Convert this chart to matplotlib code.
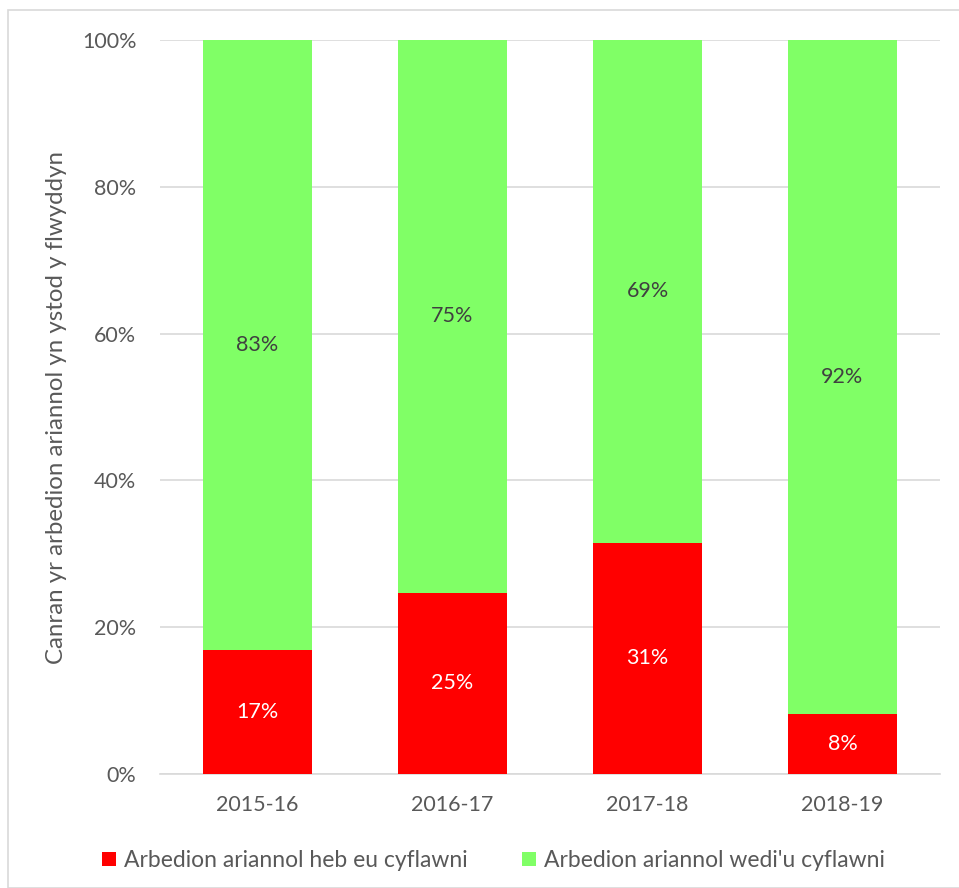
import matplotlib
matplotlib.use("Agg")
import matplotlib.pyplot as plt
from matplotlib.patches import Rectangle

years = ["2015-16", "2016-17", "2017-18", "2018-19"]
not_achieved = [16.9, 24.7, 31.5, 8.2]
achieved = [83.1, 75.3, 68.5, 91.8]
not_achieved_labels = ["17%", "25%", "31%", "8%"]
achieved_labels = ["83%", "75%", "69%", "92%"]
series_names = ["Arbedion ariannol heb eu cyflawni", "Arbedion ariannol wedi'u cyflawni"]
y_ticks = [0, 20, 40, 60, 80, 100]

RED = "#FF0000"
GREEN = "#80FF66"
GREY = "#595959"

plt.rcParams['font.family'] = ['Lato', 'DejaVu Sans']

fig = plt.figure(figsize=(9.59, 8.88), dpi=100)
fig.patches.append(Rectangle((8 / 959, 0.0), 1.0, 1 - 10 / 888, transform=fig.transFigure,
                             fill=False, edgecolor="#D9D9D9", linewidth=1.2))
ax = fig.add_axes([160 / 959, 114 / 888, 780 / 959, 734 / 888])

x = list(range(len(years)))
ax.bar(x, not_achieved, width=0.564, color=RED, label=series_names[0], zorder=3)
ax.bar(x, achieved, width=0.564, bottom=not_achieved, color=GREEN, label=series_names[1], zorder=3)

for i in x:
    ax.text(i, not_achieved[i] / 2, not_achieved_labels[i], ha="center", va="center",
            color="white", fontsize=15.5, zorder=4)
    ax.text(i, not_achieved[i] + achieved[i] / 2, achieved_labels[i], ha="center", va="center",
            color="#404040", fontsize=15.5, zorder=4)

ax.set_xlim(-0.5, 3.5)
ax.set_ylim(0, 100)
ax.set_yticks(y_ticks)
ax.set_yticklabels([f"{v}%" for v in y_ticks])
ax.set_xticks(x)
ax.set_xticklabels(years)
ax.tick_params(axis="both", length=0, labelsize=15.5, labelcolor=GREY)
ax.tick_params(axis="y", pad=17)
ax.tick_params(axis="x", pad=15)
ax.grid(axis="y", color="#D9D9D9", linewidth=1.2, zorder=0)
for s in ["top", "right", "left"]:
    ax.spines[s].set_visible(False)
ax.spines["bottom"].set_color("#D9D9D9")
ax.spines["bottom"].set_linewidth(1.2)
ax.set_ylabel("Canran yr arbedion ariannol yn ystod y flwyddyn", fontsize=17.3, color=GREY, labelpad=11)

ax.legend(loc="center", bbox_to_anchor=(0.4276, -0.118), ncol=2, frameon=False,
          fontsize=16.5, labelcolor=GREY, handlelength=0.58, handleheight=0.58,
          handletextpad=0.35, columnspacing=2.4)

plt.savefig("out.png", dpi=100)
